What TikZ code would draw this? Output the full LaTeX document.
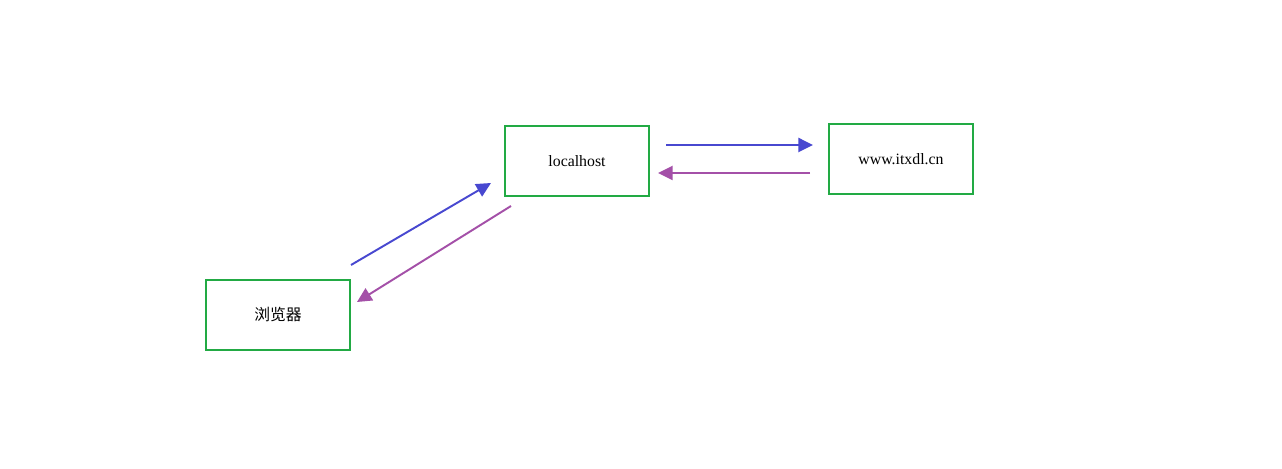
\documentclass[tikz,border=0pt]{standalone}
\usepackage{fontspec}
\setmainfont{Liberation Serif}
\newfontfamily\cjk{Noto Sans CJK SC}
\usetikzlibrary{arrows.meta}
\definecolor{boxgreen}{HTML}{22AA44}
\definecolor{reqblue}{HTML}{4848D0}
\definecolor{respurple}{HTML}{A450A8}
\tikzset{
  hostbox/.style={draw=boxgreen, line width=1.2pt, minimum width=81.6pt, minimum height=39.7pt, inner sep=0pt, font=\fontsize{9}{11}\selectfont},
  req/.style={draw=reqblue, line width=1.1pt, -{Triangle[length=8.3pt,width=8pt]}},
  res/.style={draw=respurple, line width=1.1pt, -{Triangle[length=8.3pt,width=8pt]}}
}
\begin{document}
\begin{tikzpicture}[x=0.02cm,y=-0.02cm]
\useasboundingbox[fill=white] (0,0) rectangle (1282,469);
\node[hostbox] (local) at (577,161) {localhost};
\node[hostbox] (www) at (901,159) {www.itxdl.cn};
\node[hostbox] (browser) at (278,315) {\cjk 浏览器};
\coordinate (a1s) at (351,265);
\coordinate (a1e) at (491,183);
\coordinate (a2s) at (511,206);
\coordinate (a2e) at (357,302);
\coordinate (a3s) at (666,145);
\coordinate (a3e) at (813,145);
\coordinate (a4s) at (810,173);
\coordinate (a4e) at (658,173);
\draw[req] (a1s) -- (a1e);
\draw[res] (a2s) -- (a2e);
\draw[req] (a3s) -- (a3e);
\draw[res] (a4s) -- (a4e);
\end{tikzpicture}
\end{document}
